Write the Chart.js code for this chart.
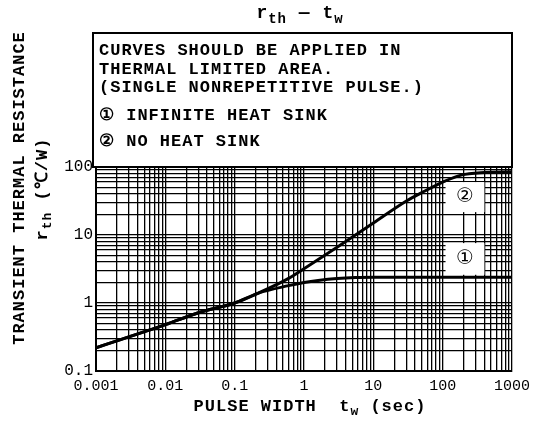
<!DOCTYPE html>
<html lang="en">
<head>
    <meta charset="UTF-8">
    <title>rth - tw</title>
    <style>
        body { margin: 0; padding: 0; background: #fff; }
        #chartContainer { width: 536px; height: 421px; }
    </style>
    <script src="https://cdn.jsdelivr.net/npm/chart.js"></script>
</head>
<body>
    <div id="chartContainer">
        <canvas id="rthChart" width="536" height="421"></canvas>
    </div>

    <script>
        // curve 1: infinite heat sink
        const twInfinite  = [0.001, 0.01, 0.03, 0.1, 0.22, 0.6, 1, 1.6, 3, 5.5, 10, 100, 1000];
        const rthInfinite = [0.22, 0.48, 0.72, 1.0, 1.4, 1.8, 2.0, 2.15, 2.3, 2.38, 2.4, 2.4, 2.4];
        // curve 2: no heat sink
        const twNoSink  = [0.001, 0.01, 0.03, 0.1, 0.22, 0.6, 1, 3, 10, 30, 50, 100, 185, 400, 1000];
        const rthNoSink = [0.22, 0.48, 0.72, 1.0, 1.4, 2.3, 3.2, 6.6, 15, 31.6, 42, 60, 76, 83, 85];

        const xTickLabels = ['0.001', '0.01', '0.1', '1', '10', '100', '1000'];
        const yTickLabels = ['0.1', '1', '10', '100'];

        const noteLines = [
            'CURVES SHOULD BE APPLIED IN',
            'THERMAL LIMITED AREA.',
            '(SINGLE NONREPETITIVE PULSE.)'
        ];
        const legendLines = ['\u2460 INFINITE HEAT SINK', '\u2461 NO HEAT SINK'];
        const curveMarks = ['\u2460', '\u2461'];

        const FONT = '"Liberation Mono", "DejaVu Sans Mono", monospace';

        // 1..9 x 10^n for every decade between min and max
        function logTicks(min, max) {
            const out = [];
            for (let e = Math.round(Math.log10(min)); e < Math.round(Math.log10(max)); e++) {
                for (let k = 1; k < 10; k++) out.push(k * Math.pow(10, e));
            }
            out.push(max);
            return out;
        }

        function labelFor(list, value) {
            const hit = list.find(l => Math.abs(Math.log10(Number(l)) - Math.log10(value)) < 1e-6);
            return hit || '';
        }

        // draw text made of runs, some subscripted
        function drawRuns(ctx, runs, x, y, size, align) {
            const subSize = Math.round(size * 0.75);
            let w = 0;
            runs.forEach(r => {
                ctx.font = 'bold ' + (r.sub ? subSize : size) + 'px ' + FONT;
                r.w = ctx.measureText(r.t).width;
                w += r.w;
            });
            let cx = align === 'center' ? x - w / 2 : x;
            ctx.textAlign = 'left';
            ctx.textBaseline = 'alphabetic';
            runs.forEach(r => {
                ctx.font = 'bold ' + (r.sub ? subSize : size) + 'px ' + FONT;
                ctx.fillText(r.t, cx, r.sub ? y + size * 0.25 : y);
                cx += r.w;
            });
        }

        const annotations = {
            id: 'annotations',
            beforeDatasetsDraw(chart) {
                const ctx = chart.ctx;
                const xs = chart.scales.x, ys = chart.scales.y;
                // white boxes around the curve marks
                const boxes = [
                    { x0: 110, x1: 400, y0: 2.6, y1: 7.6, mark: curveMarks[0] },
                    { x0: 110, x1: 400, y0: 21.7, y1: 60, mark: curveMarks[1] }
                ];
                ctx.save();
                boxes.forEach(b => {
                    const l = xs.getPixelForValue(b.x0), r = xs.getPixelForValue(b.x1);
                    const t = ys.getPixelForValue(b.y1), btm = ys.getPixelForValue(b.y0);
                    ctx.fillStyle = '#fff';
                    ctx.fillRect(l, t, r - l, btm - t);
                    ctx.fillStyle = '#000';
                    ctx.font = '20px "DejaVu Sans", sans-serif';
                    ctx.textAlign = 'center';
                    ctx.textBaseline = 'middle';
                    ctx.fillText(b.mark, (l + r) / 2, (t + btm) / 2);
                });
                ctx.restore();
            },
            afterDraw(chart) {
                const ctx = chart.ctx;
                const area = chart.chartArea;
                ctx.save();

                // note box above the plot
                ctx.fillStyle = '#fff';
                ctx.fillRect(area.left - 3, 33, area.right - area.left + 3, area.top - 33);
                ctx.strokeStyle = '#000';
                ctx.lineWidth = 2;
                ctx.strokeRect(area.left - 3, 33, area.right - area.left + 3, area.top - 33);
                ctx.fillStyle = '#000';
                ctx.font = 'bold 17px ' + FONT;
                ctx.letterSpacing = '1px';
                ctx.textAlign = 'left';
                ctx.textBaseline = 'alphabetic';
                noteLines.forEach((s, i) => ctx.fillText(s, area.left + 3, 55 + i * 18.5));
                legendLines.forEach((s, i) => ctx.fillText(s, area.left + 3, 120 + i * 26));

                // title
                drawRuns(ctx, [{ t: 'r' }, { t: 'th', sub: true }, { t: ' \u2014 ' }, { t: 't' }, { t: 'w', sub: true }],
                    300, 18, 18, 'center');

                // x axis title
                drawRuns(ctx, [{ t: 'PULSE WIDTH  t' }, { t: 'w', sub: true }, { t: ' (sec)' }],
                    310, 411, 17, 'center');

                // y axis title, two rotated lines
                ctx.save();
                ctx.translate(24, 188);
                ctx.rotate(-Math.PI / 2);
                drawRuns(ctx, [{ t: 'TRANSIENT THERMAL RESISTANCE' }], 0, 0, 17, 'center');
                ctx.restore();
                ctx.save();
                ctx.translate(47, 189);
                ctx.rotate(-Math.PI / 2);
                drawRuns(ctx, [{ t: 'r' }, { t: 'th', sub: true }, { t: ' (\u2103/W)' }], 0, 0, 17, 'center');
                ctx.restore();

                ctx.restore();
            }
        };

        const ctx = document.getElementById('rthChart').getContext('2d');
        const chart = new Chart(ctx, {
            type: 'line',
            data: {
                datasets: [
                    {
                        label: 'Infinite heat sink',
                        data: twInfinite.map((t, i) => ({ x: t, y: rthInfinite[i] })),
                        borderColor: '#000',
                        borderWidth: 3,
                        pointRadius: 0,
                        cubicInterpolationMode: 'monotone',
                        fill: false
                    },
                    {
                        label: 'No heat sink',
                        data: twNoSink.map((t, i) => ({ x: t, y: rthNoSink[i] })),
                        borderColor: '#000',
                        borderWidth: 3,
                        pointRadius: 0,
                        cubicInterpolationMode: 'monotone',
                        fill: false
                    }
                ]
            },
            options: {
                responsive: false,
                animation: false,
                devicePixelRatio: 1,
                layout: { padding: { left: 52, right: 22, top: 167, bottom: 8 } },
                plugins: {
                    legend: { display: false },
                    tooltip: { enabled: false }
                },
                scales: {
                    x: {
                        type: 'logarithmic',
                        min: 0.001,
                        max: 1000,
                        afterBuildTicks: s => { s.ticks = logTicks(0.001, 1000).map(v => ({ value: v })); },
                        afterFit: s => { s.height = 42; },
                        grid: { color: '#000', lineWidth: 1.3, drawTicks: false },
                        border: { color: '#000', width: 2 },
                        ticks: {
                            autoSkip: false,
                            maxRotation: 0,
                            padding: 6,
                            color: '#000',
                            font: { family: FONT, size: 15 },
                            callback: v => labelFor(xTickLabels, v)
                        }
                    },
                    y: {
                        type: 'logarithmic',
                        min: 0.1,
                        max: 100,
                        afterBuildTicks: s => { s.ticks = logTicks(0.1, 100).map(v => ({ value: v })); },
                        afterFit: s => { s.width = 44; },
                        grid: { color: '#000', lineWidth: 1.3, drawTicks: false },
                        border: { color: '#000', width: 2 },
                        ticks: {
                            autoSkip: false,
                            padding: 3,
                            color: '#000',
                            font: { family: FONT, size: 16 },
                            callback: v => labelFor(yTickLabels, v)
                        }
                    }
                }
            },
            plugins: [annotations]
        });
    </script>
</body>
</html>
